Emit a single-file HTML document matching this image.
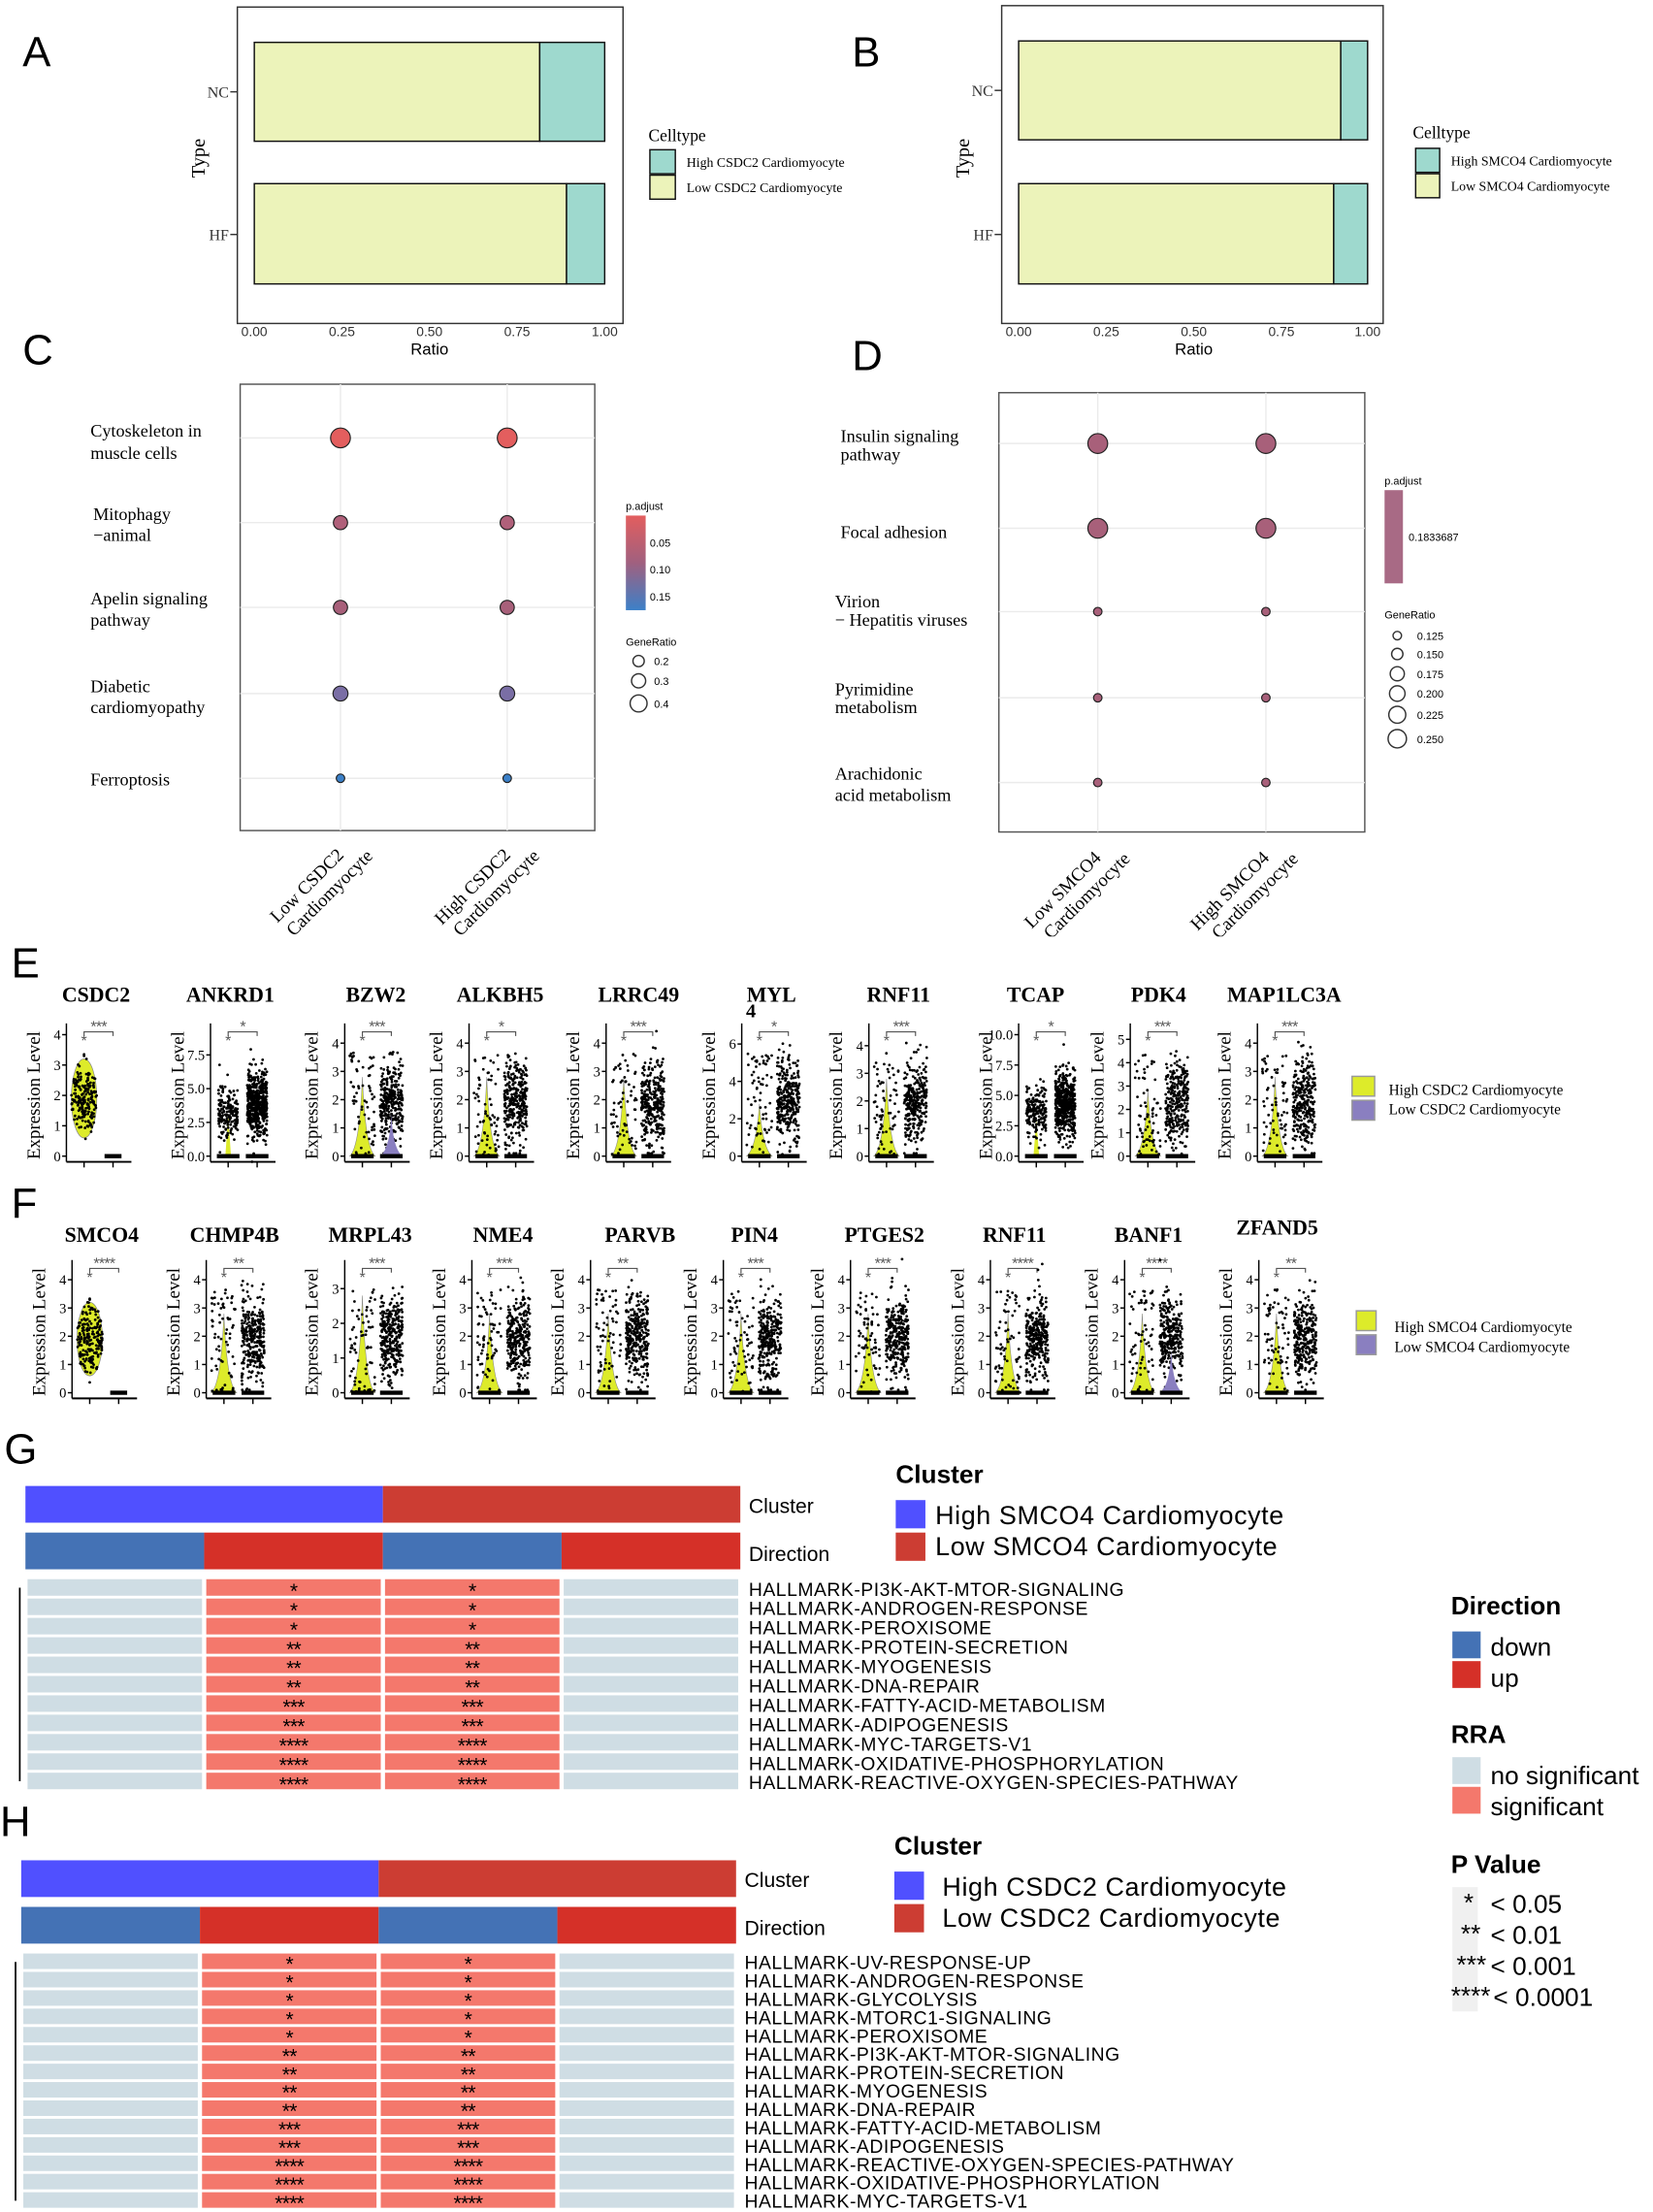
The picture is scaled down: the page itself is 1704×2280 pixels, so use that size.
<!DOCTYPE html>
<html><head><meta charset="utf-8">
<style>
html,body{margin:0;padding:0;background:#fff;}
svg{display:block;}
.s{font-family:"Liberation Serif",serif;}
.n{font-family:"Liberation Sans Narrow","Liberation Sans",sans-serif;}
.a{font-family:"Liberation Sans",sans-serif;}
</style></head><body>
<svg id="c" xmlns="http://www.w3.org/2000/svg" width="1704" height="2280" viewBox="0 0 1170 1566" preserveAspectRatio="none">
<rect width="1170" height="1566" fill="#fff"/>
<g class="a" font-size="30" fill="#000">
<text x="16" y="47">A</text><text x="603" y="47">B</text>
<text x="16" y="258">C</text><text x="603" y="262">D</text>
<text x="8" y="692">E</text><text x="8" y="862">F</text>
<text x="3" y="1036">G</text><text x="0" y="1300">H</text>
</g>
<g class="s" font-size="11">
<rect x="168" y="5" width="273" height="224" fill="none" stroke="#333" stroke-width="1"/>
<rect x="180" y="30" width="202" height="70" fill="#ECF3BA" stroke="#111"/>
<rect x="382" y="30" width="46" height="70" fill="#9ED9CE" stroke="#111"/>
<rect x="180" y="130" width="221" height="71" fill="#ECF3BA" stroke="#111"/>
<rect x="401" y="130" width="27" height="71" fill="#9ED9CE" stroke="#111"/>
<text x="162" y="69" text-anchor="end" fill="#333">NC</text><line x1="163" y1="65" x2="168" y2="65" stroke="#333"/>
<text x="162" y="170" text-anchor="end" fill="#333">HF</text><line x1="163" y1="166" x2="168" y2="166" stroke="#333"/>
<text transform="translate(145,112) rotate(-90)" text-anchor="middle" font-size="14">Type</text>
<g class="a" font-size="9.5" fill="#333" text-anchor="middle">
<text x="180" y="238">0.00</text><text x="242" y="238">0.25</text><text x="304" y="238">0.50</text><text x="366" y="238">0.75</text><text x="428" y="238">1.00</text>
<text x="304" y="251" font-size="11.5" fill="#000">Ratio</text></g>
<text x="459" y="100" font-size="12">Celltype</text>
<rect x="460" y="106" width="18" height="17" fill="#9ED9CE" stroke="#111"/>
<rect x="460" y="124" width="18" height="17" fill="#ECF3BA" stroke="#111"/>
<text x="486" y="118" font-size="9.5">High CSDC2 Cardiomyocyte</text>
<text x="486" y="136" font-size="9.5">Low CSDC2 Cardiomyocyte</text>
</g>
<g class="s" font-size="11">
<rect x="709" y="4" width="270" height="225" fill="none" stroke="#333"/>
<rect x="721" y="29" width="228" height="70" fill="#ECF3BA" stroke="#111"/>
<rect x="949" y="29" width="19" height="70" fill="#9ED9CE" stroke="#111"/>
<rect x="721" y="130" width="223" height="71" fill="#ECF3BA" stroke="#111"/>
<rect x="944" y="130" width="24" height="71" fill="#9ED9CE" stroke="#111"/>
<text x="703" y="68" text-anchor="end" fill="#333">NC</text><line x1="704" y1="64" x2="709" y2="64" stroke="#333"/>
<text x="703" y="170" text-anchor="end" fill="#333">HF</text><line x1="704" y1="166" x2="709" y2="166" stroke="#333"/>
<text transform="translate(686,112) rotate(-90)" text-anchor="middle" font-size="14">Type</text>
<g class="a" font-size="9.5" fill="#333" text-anchor="middle">
<text x="721" y="238">0.00</text><text x="783" y="238">0.25</text><text x="845" y="238">0.50</text><text x="907" y="238">0.75</text><text x="968" y="238">1.00</text>
<text x="845" y="251" font-size="11.5" fill="#000">Ratio</text></g>
<text x="1000" y="98" font-size="12">Celltype</text>
<rect x="1002" y="105" width="17" height="17" fill="#9ED9CE" stroke="#111"/>
<rect x="1002" y="123" width="17" height="17" fill="#ECF3BA" stroke="#111"/>
<text x="1027" y="117" font-size="9.5">High SMCO4 Cardiomyocyte</text>
<text x="1027" y="135" font-size="9.5">Low SMCO4 Cardiomyocyte</text>
</g>
<defs><linearGradient id="pg" x1="0" y1="0" x2="0" y2="1"><stop offset="0" stop-color="#E35E5E"/><stop offset="0.5" stop-color="#A0607F"/><stop offset="1" stop-color="#3C80C8"/></linearGradient>
<clipPath id="cl"><rect x="0" y="0" width="1170" height="663"/></clipPath></defs>
<g class="s" font-size="12.5">
<rect x="170" y="272" width="251" height="316" fill="#fff" stroke="#555"/>
<g stroke="#ebebeb"><line x1="241" y1="272" x2="241" y2="588"/><line x1="359" y1="272" x2="359" y2="588"/>
<line x1="170" y1="310" x2="421" y2="310"/><line x1="170" y1="370" x2="421" y2="370"/><line x1="170" y1="430" x2="421" y2="430"/><line x1="170" y1="491" x2="421" y2="491"/><line x1="170" y1="551" x2="421" y2="551"/></g>
<g stroke="#222" stroke-width="0.8">
<circle cx="241" cy="310" r="7" fill="#E35E5E"/><circle cx="359" cy="310" r="7" fill="#E35E5E"/>
<circle cx="241" cy="370" r="5" fill="#B0607A"/><circle cx="359" cy="370" r="5" fill="#B0607A"/>
<circle cx="241" cy="430" r="5" fill="#A8607A"/><circle cx="359" cy="430" r="5" fill="#A8607A"/>
<circle cx="241" cy="491" r="5.3" fill="#7A6EA5"/><circle cx="359" cy="491" r="5.3" fill="#7A6EA5"/>
<circle cx="241" cy="551" r="3" fill="#3B80C8"/><circle cx="359" cy="551" r="3" fill="#3B80C8"/></g>
<text x="64" y="309">Cytoskeleton in</text><text x="64" y="325">muscle cells</text>
<text x="66" y="368">Mitophagy</text><text x="66" y="383">−animal</text>
<text x="64" y="428">Apelin signaling</text><text x="64" y="443">pathway</text>
<text x="64" y="490">Diabetic</text><text x="64" y="505">cardiomyopathy</text>
<text x="64" y="556">Ferroptosis</text>
<g clip-path="url(#cl)" font-size="13">
<text transform="translate(244,606) rotate(-45)" text-anchor="end"><tspan x="0" dy="0">Low CSDC2</tspan><tspan x="14" dy="15">Cardiomyocyte</tspan></text>
<text transform="translate(362,606) rotate(-45)" text-anchor="end"><tspan x="0" dy="0">High CSDC2</tspan><tspan x="14" dy="15">Cardiomyocyte</tspan></text>
</g>
<g class="a" font-size="7.5">
<text x="443" y="361">p.adjust</text>
<rect x="443" y="365" width="14" height="67" fill="url(#pg)"/>
<text x="460" y="387">0.05</text><text x="460" y="406">0.10</text><text x="460" y="425">0.15</text>
<text x="443" y="457">GeneRatio</text>
<g fill="none" stroke="#333"><circle cx="452" cy="468" r="4"/><circle cx="452" cy="482" r="5"/><circle cx="452" cy="498" r="6"/></g>
<text x="463" y="471">0.2</text><text x="463" y="485">0.3</text><text x="463" y="501">0.4</text>
</g></g>
<g class="s" font-size="12.5">
<rect x="707" y="278" width="259" height="311" fill="#fff" stroke="#555"/>
<g stroke="#ebebeb"><line x1="777" y1="278" x2="777" y2="589"/><line x1="896" y1="278" x2="896" y2="589"/>
<line x1="707" y1="314" x2="966" y2="314"/><line x1="707" y1="374" x2="966" y2="374"/><line x1="707" y1="433" x2="966" y2="433"/><line x1="707" y1="494" x2="966" y2="494"/><line x1="707" y1="554" x2="966" y2="554"/></g>
<g stroke="#222" stroke-width="0.8" fill="#A8607A">
<circle cx="777" cy="314" r="7"/><circle cx="896" cy="314" r="7"/>
<circle cx="777" cy="374" r="7"/><circle cx="896" cy="374" r="7"/>
<circle cx="777" cy="433" r="3"/><circle cx="896" cy="433" r="3"/>
<circle cx="777" cy="494" r="3"/><circle cx="896" cy="494" r="3"/>
<circle cx="777" cy="554" r="3"/><circle cx="896" cy="554" r="3"/></g>
<text x="595" y="313">Insulin signaling</text><text x="595" y="326">pathway</text>
<text x="595" y="381">Focal adhesion</text>
<text x="591" y="430">Virion</text><text x="591" y="443">− Hepatitis viruses</text>
<text x="591" y="492">Pyrimidine</text><text x="591" y="505">metabolism</text>
<text x="591" y="552">Arachidonic</text><text x="591" y="567">acid metabolism</text>
<g clip-path="url(#cl)" font-size="13">
<text transform="translate(780,608) rotate(-45)" text-anchor="end"><tspan x="0" dy="0">Low SMCO4</tspan><tspan x="14" dy="15">Cardiomyocyte</tspan></text>
<text transform="translate(899,608) rotate(-45)" text-anchor="end"><tspan x="0" dy="0">High SMCO4</tspan><tspan x="14" dy="15">Cardiomyocyte</tspan></text>
</g>
<g class="a" font-size="7.5">
<text x="980" y="343">p.adjust</text>
<rect x="980" y="347" width="13" height="66" fill="#A86A85"/>
<text x="997" y="383">0.1833687</text>
<text x="980" y="438">GeneRatio</text>
<g fill="none" stroke="#333"><circle cx="989" cy="450" r="3"/><circle cx="989" cy="463" r="4"/><circle cx="989" cy="477" r="5"/><circle cx="989" cy="491" r="5.5"/><circle cx="989" cy="506" r="6"/><circle cx="989" cy="523" r="6.5"/></g>
<text x="1003" y="453">0.125</text><text x="1003" y="466">0.150</text><text x="1003" y="480">0.175</text><text x="1003" y="494">0.200</text><text x="1003" y="509">0.225</text><text x="1003" y="526">0.250</text>
</g></g>
<g class="s" font-size="10.5">
<rect x="957" y="762" width="16" height="14" fill="#DDEB2A" stroke="#999"/><rect x="957" y="779" width="16" height="14" fill="#8A7FC0" stroke="#999"/>
<text x="983" y="775">High CSDC2 Cardiomyocyte</text><text x="983" y="789">Low CSDC2 Cardiomyocyte</text>
<rect x="960" y="928" width="14" height="14" fill="#DDEB2A" stroke="#999"/><rect x="960" y="945" width="14" height="14" fill="#8A7FC0" stroke="#999"/>
<text x="987" y="943">High SMCO4 Cardiomyocyte</text><text x="987" y="957">Low SMCO4 Cardiomyocyte</text>
</g>
<g id="vio"></g>
<g class="a" fill="#000">
<text x="634" y="1050" font-size="18" font-weight="bold">Cluster</text>
<rect x="634" y="1062" width="21" height="20" fill="#5050FF"/><rect x="634" y="1085" width="21" height="20" fill="#CC3D33"/>
<text x="662" y="1079" font-size="18.5" letter-spacing="0.4">High SMCO4 Cardiomyocyte</text><text x="662" y="1101" font-size="18.5" letter-spacing="0.4">Low SMCO4 Cardiomyocyte</text>
<text x="633" y="1313" font-size="18" font-weight="bold">Cluster</text>
<rect x="633" y="1325" width="21" height="20" fill="#5050FF"/><rect x="633" y="1348" width="21" height="20" fill="#CC3D33"/>
<text x="667" y="1342" font-size="18.5" letter-spacing="0.4">High CSDC2 Cardiomyocyte</text><text x="667" y="1364" font-size="18.5" letter-spacing="0.4">Low CSDC2 Cardiomyocyte</text>
<text x="1027" y="1143" font-size="18" font-weight="bold">Direction</text>
<rect x="1028" y="1155" width="20" height="19" fill="#4472B5"/><rect x="1028" y="1176" width="20" height="19" fill="#D53028"/>
<text x="1055" y="1172" font-size="18">down</text><text x="1055" y="1194" font-size="18">up</text>
<text x="1027" y="1234" font-size="18" font-weight="bold">RRA</text>
<rect x="1028" y="1244" width="20" height="19" fill="#CFDDE4"/><rect x="1028" y="1265" width="20" height="19" fill="#F4786C"/>
<text x="1055" y="1263" font-size="18">no significant</text><text x="1055" y="1285" font-size="18">significant</text>
<text x="1027" y="1326" font-size="18" font-weight="bold">P Value</text>
<rect x="1028" y="1336" width="18" height="88" fill="#f0f0f0"/>
<g font-size="18"><text x="1043" y="1353" text-anchor="end">*</text><text x="1055" y="1354">&lt; 0.05</text>
<text x="1048" y="1375" text-anchor="end">**</text><text x="1055" y="1376">&lt; 0.01</text>
<text x="1052" y="1397" text-anchor="end">***</text><text x="1055" y="1398">&lt; 0.001</text>
<text x="1055" y="1419" text-anchor="end">****</text><text x="1057" y="1420">&lt; 0.0001</text></g>
</g>
<g id="heat"></g>
</svg>
<script>
(function(){
var seed=12345;function rnd(){seed=(seed*1103515245+12345)%2147483648;return seed/2147483648;}
function gauss(){var u=rnd()||1e-6,v=rnd();return Math.sqrt(-2*Math.log(u))*Math.cos(2*Math.PI*v);}
var out=[];
function E(s){out.push(s);}
function dot(x,y){E('<circle cx="'+x.toFixed(1)+'" cy="'+y.toFixed(1)+'" r="0.95"/>');}
function panel(x0,yb,ytop,title,tx,ty,ticks,tmax,stars,kind){
  var scale=(yb-ytop)/tmax;
  E('<text class="s" x="'+tx+'" y="'+ty+'" font-size="15" font-weight="bold" text-anchor="middle">'+title+'</text>');
  E('<line x1="'+x0+'" y1="'+(ytop-8)+'" x2="'+x0+'" y2="'+(yb+4)+'" stroke="#000" stroke-width="1"/>');
  E('<line x1="'+x0+'" y1="'+(yb+4)+'" x2="'+(x0+46)+'" y2="'+(yb+4)+'" stroke="#000" stroke-width="1.3"/>');
  var cl=x0+12.5,cr=x0+33;
  E('<line x1="'+cl+'" y1="'+(yb+4)+'" x2="'+cl+'" y2="'+(yb+8)+'" stroke="#000"/><line x1="'+cr+'" y1="'+(yb+4)+'" x2="'+cr+'" y2="'+(yb+8)+'" stroke="#000"/>');
  ticks.forEach(function(t){var y=yb-t*scale;var lab=(tmax>6&&title!="MYL")?t.toFixed(1):String(t);
    E('<line x1="'+(x0-3)+'" y1="'+y+'" x2="'+x0+'" y2="'+y+'" stroke="#000"/>');
    E('<text class="s" x="'+(x0-4)+'" y="'+(y+3.5)+'" font-size="10" text-anchor="end">'+lab+'</text>');});
  E('<text class="s" transform="translate('+(x0-19)+','+((yb+ytop)/2)+') rotate(-90)" font-size="13" text-anchor="middle">Expression Level</text>');
  var by=ytop-2;
  E('<path d="M'+cl+' '+(by+3)+'V'+by+'H'+cr+'V'+(by+3)+'" fill="none" stroke="#555" stroke-width="0.8"/>');
  E('<text class="a" x="'+((cl+cr)/2)+'" y="'+(by)+'" font-size="11" fill="#555" text-anchor="middle" letter-spacing="-0.5">'+stars+'</text>');
  E('<text class="a" x="'+(cl)+'" y="'+(by+10)+'" font-size="11" fill="#555" text-anchor="middle">*</text>');
  var m=tmax*0.45;
  E('<g fill="#000">');
  if(kind=="big"){
    E('<ellipse cx="'+cl+'" cy="'+(yb-1.9*scale)+'" rx="9" ry="'+(1.3*scale)+'" fill="#DDEB2A" stroke="#888" stroke-width="0.5"/>');
    for(var i=0;i<200;i++){var v=1.9+gauss()*0.55;var w=9*Math.sqrt(Math.max(0,1-Math.pow((v-1.9)/1.35,2)));dot(cl+(rnd()*2-1)*w,yb-v*scale);}
    E('<rect x="'+(cr-6)+'" y="'+(yb-1.5)+'" width="12" height="3" fill="#000"/>');
  } else {
    if(kind=="dense"){
      E('<path d="M'+(cl-2)+' '+yb+'L'+cl+' '+(yb-6*scale*0.5)+'L'+(cl+2)+' '+yb+'Z" fill="#DDEB2A"/>');
      for(var i=0;i<180;i++){var v=tmax*0.37+gauss()*tmax*0.1;dot(cl+(rnd()*2-1)*7,yb-v*scale);}
      for(var i=0;i<500;i++){var v=tmax*0.42+gauss()*tmax*0.14;dot(cr+(rnd()*2-1)*7,yb-v*scale);}
    } else {
      E('<path d="M'+(cl-9)+' '+yb+'Q'+(cl-2)+' '+(yb-6)+' '+cl+' '+(yb-2.8*scale)+'Q'+(cl+2)+' '+(yb-6)+' '+(cl+9)+' '+yb+'Z" fill="#DDEB2A" stroke="#888" stroke-width="0.4"/>');
      for(var i=0;i<70;i++){var v=Math.abs(rnd()*tmax*0.85);dot(cl+(rnd()*2-1)*9,yb-v*scale);}
      for(var i=0;i<300;i++){var v=Math.max(0.1,m+gauss()*tmax*0.17);dot(cr+(rnd()*2-1)*8,yb-v*scale);}
    }
    if(kind=="purple"){E('<path d="M'+(cr-8)+' '+yb+'Q'+(cr-1)+' '+(yb-5)+' '+cr+' '+(yb-1.5*scale)+'Q'+(cr+1)+' '+(yb-5)+' '+(cr+8)+' '+yb+'Z" fill="#8A7FC0"/>');}
    E('<rect x="'+(cl-8)+'" y="'+(yb-1.5)+'" width="16" height="3" fill="#000"/>');
    E('<rect x="'+(cr-8)+'" y="'+(yb-1.5)+'" width="16" height="3" fill="#000"/>');
  }
  E('</g>');
}
var E_ax=[47,149,244,332,429,525,615,721,800,890];
var E_t=[["CSDC2",68],["ANKRD1",163],["BZW2",266],["ALKBH5",354],["LRRC49",452],["MYL",546],["RNF11",636],["TCAP",733],["PDK4",820],["MAP1LC3A",909]];
var E_tk=[[0,1,2,3,4],[0,2.5,5,7.5],[0,1,2,3,4],[0,1,2,3,4],[0,1,2,3,4],[0,2,4,6],[0,1,2,3,4],[0,2.5,5,7.5,10],[0,1,2,3,4,5],[0,1,2,3,4]];
var E_max=[4,9,4.3,4.3,4.3,6.5,4.4,10,5.2,4.3];
var E_st=["***","*","***","*","***","*","***","*","***","***"];
var E_k=["big","dense","purple","n","n","n","n","dense","n","n"];
for(var i=0;i<10;i++){panel(E_ax[i],818.5,818.5-86,E_t[i][0],E_t[i][1],709,E_tk[i],E_max[i],E_st[i],E_k[i]);}
E('<text class="s" x="528" y="720" font-size="14" font-weight="bold">4</text>');
var F_ax=[51,146,244,334,418,512,602,701,796,891];
var F_t=[["SMCO4",72],["CHMP4B",166],["MRPL43",262],["NME4",356],["PARVB",453],["PIN4",534],["PTGES2",626],["RNF11",718],["BANF1",813],["ZFAND5",904]];
var F_st=["****","**","***","***","**","***","***","****","****","**"];
var F_k=["big","n","n","n","n","n","n","n","purple","n"];
for(var i=0;i<10;i++){var tk=(i==2)?[0,1,2,3]:[0,1,2,3,4];var tm=(i==2)?3.5:4.3;panel(F_ax[i],986,986-86,F_t[i][0],F_t[i][1],(i==9?874:879),tk,tm,F_st[i],F_k[i]);}
document.getElementById('vio').innerHTML=out.join('');
out=[];
function heat(x0,x1,cy,dy,r0,pitch,names,stars){
  var w=(x1-x0);var q=w/4;
  E('<rect x="'+x0+'" y="'+cy+'" width="'+(w/2)+'" height="26" fill="#5050FF"/><rect x="'+(x0+w/2)+'" y="'+cy+'" width="'+(w/2)+'" height="26" fill="#CC3D33"/>');
  for(var k=0;k<4;k++)E('<rect x="'+(x0+k*q)+'" y="'+dy+'" width="'+q+'" height="26" fill="'+(k%2?"#D53028":"#4472B5")+'"/>');
  E('<text class="n" x="'+(x1+6)+'" y="'+(cy+19)+'" font-size="14.5">Cluster</text><text class="n" x="'+(x1+6)+'" y="'+(dy+20)+'" font-size="14.5">Direction</text>');
  E('<line x1="'+(x0-4)+'" y1="'+(r0+6)+'" x2="'+(x0-4)+'" y2="'+(r0+pitch*(names.length-1)+6)+'" stroke="#000" stroke-width="1.2"/>');
  for(var i=0;i<names.length;i++){var y=r0+i*pitch;
    for(var k=0;k<4;k++){E('<rect x="'+(x0+k*q+1.5)+'" y="'+y+'" width="'+(q-3)+'" height="'+(pitch-2)+'" fill="'+((k==1||k==2)?"#F4786C":"#CFDDE4")+'"/>');}
    E('<text class="a" x="'+(x0+q*1.5)+'" y="'+(y+pitch-0.5)+'" font-size="14.5" text-anchor="middle" letter-spacing="-0.5">'+stars[i]+'</text>');
    E('<text class="a" x="'+(x0+q*2.5)+'" y="'+(y+pitch-0.5)+'" font-size="14.5" text-anchor="middle" letter-spacing="-0.5">'+stars[i]+'</text>');
    E('<text class="n" x="'+(x1+6)+'" y="'+(y+pitch-2)+'" font-size="13.3" letter-spacing="0.35">'+names[i]+'</text>');}
}
heat(18,524,1052,1085,1118,13.7,["HALLMARK-PI3K-AKT-MTOR-SIGNALING","HALLMARK-ANDROGEN-RESPONSE","HALLMARK-PEROXISOME","HALLMARK-PROTEIN-SECRETION","HALLMARK-MYOGENESIS","HALLMARK-DNA-REPAIR","HALLMARK-FATTY-ACID-METABOLISM","HALLMARK-ADIPOGENESIS","HALLMARK-MYC-TARGETS-V1","HALLMARK-OXIDATIVE-PHOSPHORYLATION","HALLMARK-REACTIVE-OXYGEN-SPECIES-PATHWAY"],["*","*","*","**","**","**","***","***","****","****","****"]);
heat(15,521,1317,1350,1383,13.0,["HALLMARK-UV-RESPONSE-UP","HALLMARK-ANDROGEN-RESPONSE","HALLMARK-GLYCOLYSIS","HALLMARK-MTORC1-SIGNALING","HALLMARK-PEROXISOME","HALLMARK-PI3K-AKT-MTOR-SIGNALING","HALLMARK-PROTEIN-SECRETION","HALLMARK-MYOGENESIS","HALLMARK-DNA-REPAIR","HALLMARK-FATTY-ACID-METABOLISM","HALLMARK-ADIPOGENESIS","HALLMARK-REACTIVE-OXYGEN-SPECIES-PATHWAY","HALLMARK-OXIDATIVE-PHOSPHORYLATION","HALLMARK-MYC-TARGETS-V1"],["*","*","*","*","*","**","**","**","**","***","***","****","****","****"]);
document.getElementById('heat').innerHTML=out.join('');
})();
</script>
</body></html>
